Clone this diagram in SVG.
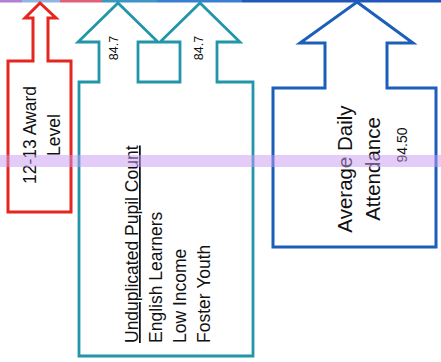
<svg xmlns="http://www.w3.org/2000/svg" width="441" height="362" viewBox="0 0 441 362">
  <style>
    .lbl { font-family: "Liberation Sans", Arial, sans-serif; fill: #111; }
    .big { font-size: 17.5px; }
    .huge { font-size: 20.5px; }
    .num { font-size: 12.5px; }
    .shape { fill: #ffffff; stroke-linejoin: miter; }
  </style>
  <rect width="441" height="362" fill="#ffffff"/>

  <!-- top border strip -->
  <g id="top-strip">
    <rect x="0" y="0" width="22" height="2.5" fill="#b27fd6"/>
    <rect x="22" y="0" width="38" height="2.5" fill="#8fb7e6"/>
    <rect x="60" y="0" width="42" height="2.5" fill="#e0607a"/>
    <rect x="102" y="0" width="55" height="2.5" fill="#3e95c6"/>
    <rect x="157" y="0" width="85" height="2.5" fill="#3a7fd0"/>
    <rect x="242" y="0" width="199" height="2.5" fill="#2057bb"/>
  </g>

  <!-- award level arrow -->
  <g id="award-level">
    <path class="shape" stroke="#e5261f" stroke-width="3" d="M40,3 L56,18 L48,18 L48,61 L71,61 L71,212 L8,212 L8,61 L33,61 L33,18 L25,18 Z"/>
    <g transform="translate(0,135) rotate(-90)">
      <text class="lbl big" text-anchor="middle" x="0" y="36">12-13 Award</text>
      <text class="lbl big" text-anchor="middle" x="0" y="60">Level</text>
    </g>
  </g>

  <!-- unduplicated pupil count box with two arrows -->
  <g id="pupil-count">
    <path class="shape" stroke="#2196a8" stroke-width="2.8" d="M79,82 L99,82 L99,42 L78,42 L118,3 L158,42 L138,42 L138,82 L180,82 L180,42 L160,42 L200,3 L240,42 L217,42 L217,82 L253,82 L253,356 L79,356 Z"/>
    <text class="lbl num" text-anchor="middle" transform="translate(118,48) rotate(-90)">84.7</text>
    <text class="lbl num" text-anchor="middle" transform="translate(203,48) rotate(-90)">84.7</text>
    <g transform="translate(0,343) rotate(-90)">
      <text class="lbl big" x="0" y="138" text-decoration="underline">Unduplicated Pupil Count</text>
      <text class="lbl big" x="0" y="162">English Learners</text>
      <text class="lbl big" x="0" y="186">Low Income</text>
      <text class="lbl big" x="0" y="210">Foster Youth</text>
    </g>
  </g>

  <!-- average daily attendance arrow -->
  <g id="attendance">
    <path class="shape" stroke="#1c5fba" stroke-width="3" d="M357,2 L413,43 L387,43 L387,88 L436,88 L436,247 L273,247 L273,88 L325,88 L325,43 L300,43 Z"/>
    <g transform="translate(0,169) rotate(-90)">
      <text class="lbl huge" text-anchor="middle" x="0" y="352">Average Daily</text>
      <text class="lbl huge" text-anchor="middle" x="0" y="380">Attendance</text>
    </g>
    <text class="lbl" font-size="14" text-anchor="middle" transform="translate(407,145) rotate(-90)">94.50</text>
  </g>

  <!-- translucent highlight band -->
  <rect x="0" y="155" width="441" height="12" fill="#c79cf2" opacity="0.5"/>
</svg>
